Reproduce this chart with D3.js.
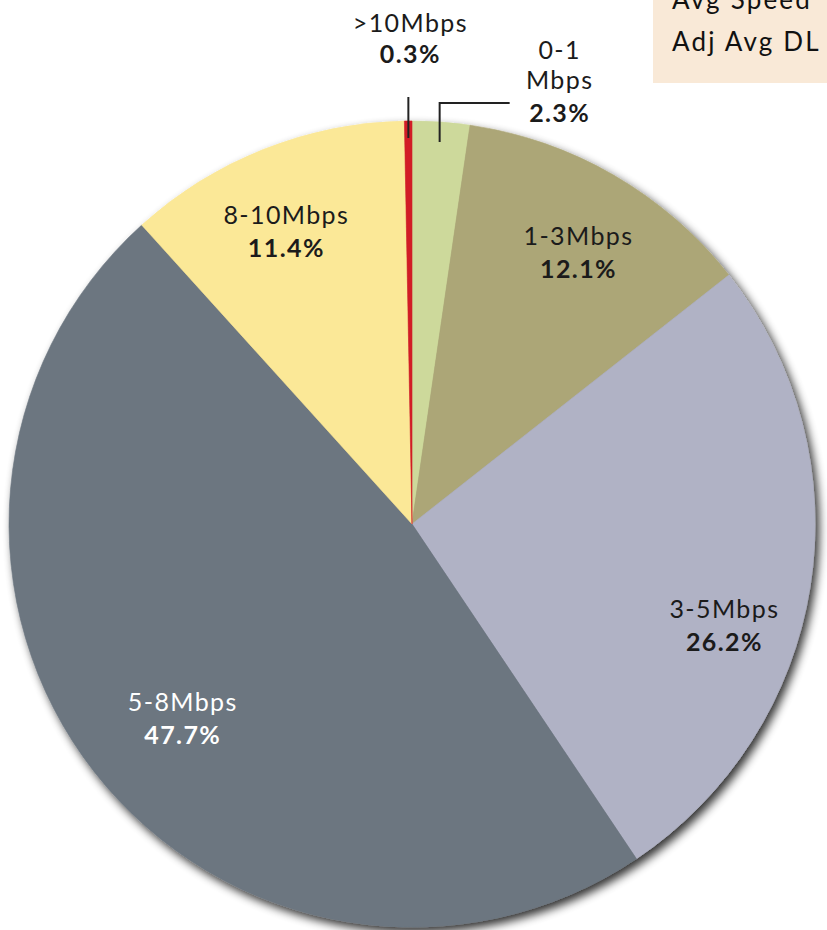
<!DOCTYPE html>
<html><head><meta charset="utf-8">
<script src="https://cdn.jsdelivr.net/npm/d3@7"></script>
<style>html,body{margin:0;padding:0;background:#fff;overflow:hidden} svg{display:block}</style>
</head><body>
<svg id="chart" width="827" height="930"></svg>
<script>
// ---- data ----
const categories = ["0-1 Mbps", "1-3Mbps", "3-5Mbps", "5-8Mbps", "8-10Mbps", ">10Mbps"];
const shares = [2.3, 12.1, 26.2, 47.7, 11.4, 0.3];
const colors = ["#cdd99b", "#aca677", "#b0b2c5", "#6c7680", "#fbe897", "#d21f26"];
const legendLines = ["Avg Speed", "Adj Avg DL"];

// ---- layout ----
const W = 827, H = 930;
const cx = 412, cy = 524, R = 403;
const FONT = "Lato, 'Open Sans', sans-serif";
const FS = 25, LS = 1.4;
// inside labels: radial fraction + pixel nudge, keyed by category index
const insideLayout = {
  1: {r: 0.80, dx: 5, dy: 6, color: "#1b1b1b"},
  2: {r: 0.80, dx: -6, dy: 50, color: "#1b1b1b"},
  3: {r: 0.75, dx: 9, dy: 7, color: "#ffffff"},
  4: {r: 0.80, dx: -7, dy: 6, color: "#1b1b1b"}
};

const svg = d3.select("#chart");
const defs = svg.append("defs");
const f = defs.append("filter").attr("id", "shadow")
  .attr("x", "-10%").attr("y", "-10%").attr("width", "125%").attr("height", "125%");
f.append("feGaussianBlur").attr("in", "SourceAlpha").attr("stdDeviation", 5).attr("result", "b");
f.append("feOffset").attr("in", "b").attr("dx", 4).attr("dy", 5).attr("result", "o");
f.append("feComponentTransfer").attr("in", "o").attr("result", "o2")
  .append("feFuncA").attr("type", "linear").attr("slope", 0.8);
const m = f.append("feMerge");
m.append("feMergeNode").attr("in", "o2");
m.append("feMergeNode").attr("in", "SourceGraphic");

const data = categories.map((c, i) => ({cat: c, value: shares[i], color: colors[i], i}));
const pie = d3.pie().sort(null).value(d => d.value).startAngle(0).endAngle(2 * Math.PI);
const arcs = pie(data);
const arc = d3.arc().innerRadius(0).outerRadius(R);

const g = svg.append("g").attr("transform", `translate(${cx},${cy})`);
g.append("g").attr("filter", "url(#shadow)")
  .selectAll("path").data(arcs).join("path")
  .attr("d", arc)
  .attr("fill", d => d.data.color)
  .attr("stroke", d => d.data.color)
  .attr("stroke-width", 0.6);

const fmt = d => d3.format(".1f")(d) + "%";
const textStyle = sel => sel.attr("text-anchor", "middle")
  .attr("font-family", FONT).attr("font-size", FS).attr("letter-spacing", LS);

// inside labels
arcs.forEach(a => {
  const L = insideLayout[a.data.i];
  if (!L) return;
  const la = d3.arc().innerRadius(R * L.r).outerRadius(R * L.r);
  const [x, y] = la.centroid(a);
  const t = g.append("text").call(textStyle)
    .attr("x", x + L.dx).attr("y", y + L.dy - 6)
    .attr("fill", L.color);
  t.append("tspan").attr("x", x + L.dx).attr("dy", 0).text(a.data.cat);
  t.append("tspan").attr("x", x + L.dx).attr("dy", 33).attr("font-weight", "bold").text(fmt(a.data.value));
});

// outside labels with leader lines
const polar = (ang, r) => [r * Math.sin(ang), -r * Math.cos(ang)];
const lineStyle = sel => sel.attr("fill", "none").attr("stroke", "#222").attr("stroke-width", 2);

// >10Mbps (last slice)
{
  const a = arcs[5];
  const mid = (a.startAngle + a.endAngle) / 2 - 2 * Math.PI;
  const [x0, y0] = polar(mid, R - 17);
  const yTop = -R - 24;
  lineStyle(g.append("path").attr("d", d3.line()([[x0, y0], [x0, yTop]])));
  const t = g.append("text").call(textStyle).attr("fill", "#1b1b1b");
  t.append("tspan").attr("x", x0 + 2).attr("y", yTop - 65).text(a.data.cat);
  t.append("tspan").attr("x", x0 + 2).attr("y", yTop - 34).attr("font-weight", "bold").text(fmt(a.data.value));
}
// 0-1 Mbps (first slice)
{
  const a = arcs[0];
  const mid = (a.startAngle + a.endAngle) / 2;
  const [x0, y0] = polar(mid, R - 20);
  const yTop = -R - 18;
  const xEnd = x0 + 70;
  lineStyle(g.append("path").attr("d", d3.line()([[x0, y0], [x0, yTop]].concat([[xEnd, yTop]]))));
  const parts = a.data.cat.split(" ");
  const lx = xEnd + 50;
  const t = g.append("text").call(textStyle).attr("fill", "#1b1b1b");
  t.append("tspan").attr("x", lx).attr("y", yTop - 44).text(parts[0]);
  t.append("tspan").attr("x", lx).attr("y", yTop - 14).text(parts[1]);
  t.append("tspan").attr("x", lx).attr("y", yTop + 19).attr("font-weight", "bold").text(fmt(a.data.value));
}

// legend box (cropped at top, as in the reference)
svg.append("rect").attr("x", 653).attr("y", -10).attr("width", 190).attr("height", 93).attr("fill", "#f9e9d7");
svg.append("g").selectAll("text").data(legendLines).join("text")
  .attr("x", 672).attr("y", (d, i) => 9 + i * 42)
  .attr("font-family", FONT).attr("font-size", 26).attr("letter-spacing", 2.2)
  .attr("fill", "#111").text(d => d);
</script>
</body></html>
